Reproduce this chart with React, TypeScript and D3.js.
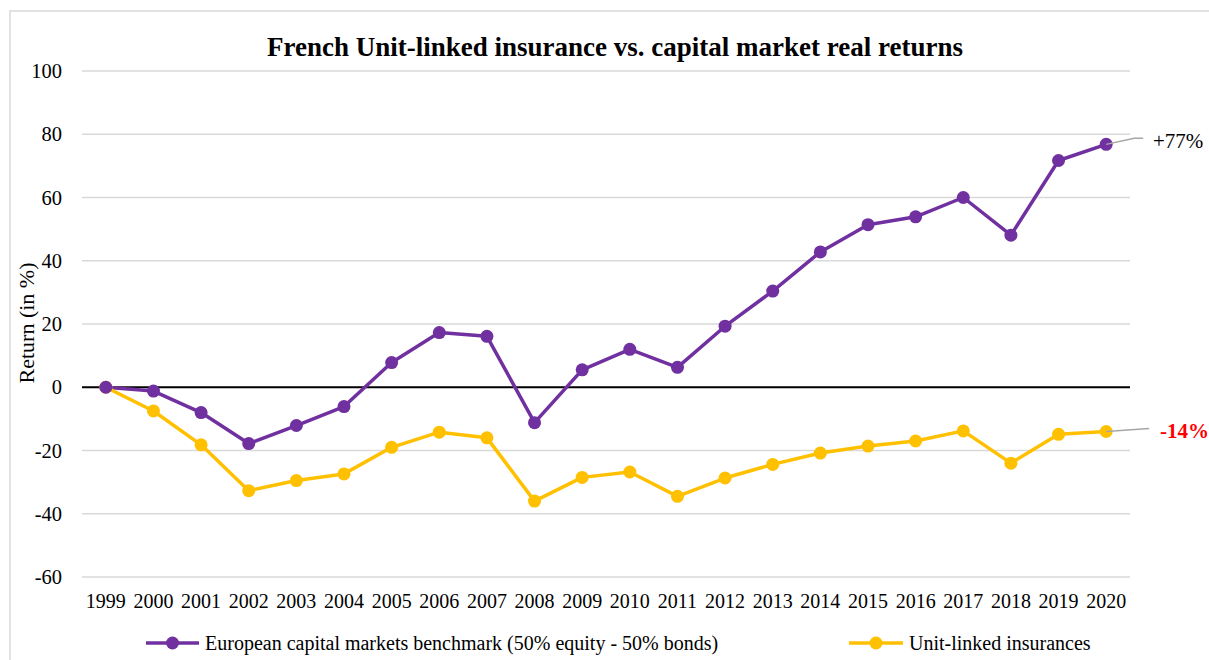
import React from "react";
import * as d3 from "d3";

const years = ["1999","2000","2001","2002","2003","2004","2005","2006","2007","2008","2009","2010","2011","2012","2013","2014","2015","2016","2017","2018","2019","2020"];
const benchmark = [0,-1.2,-8.0,-17.8,-12.1,-6.1,7.8,17.3,16.1,-11.2,5.5,12.0,6.3,19.3,30.4,42.8,51.4,53.9,60.0,48.1,71.7,76.8];
const unitLinked = [0,-7.5,-18.2,-32.7,-29.5,-27.4,-19.0,-14.2,-16.0,-36.0,-28.5,-26.8,-34.5,-28.7,-24.4,-20.8,-18.6,-17.0,-13.8,-24.0,-14.9,-14.0];
const yTicks = [100,80,60,40,20,0,-20,-40,-60];
const seriesNames = ["European capital markets benchmark (50% equity - 50% bonds)", "Unit-linked insurances"];
const endLabels = ["+77%", "-14%"];

const W = 1209, H = 660;
const FONT = "'Liberation Serif', 'Times New Roman', serif";
const PURPLE = "#7030A0";
const YELLOW = "#FFC000";

export default function App() {
  const x = d3.scalePoint<string>().domain(years).range([82, 1130]).padding(0.5);
  const y = d3.scaleLinear().domain([-60, 100]).range([577, 71]);
  const line = d3.line<number>().x((_, i) => x(years[i])!).y((d) => y(d));
  const series = [
    { name: seriesNames[0], values: benchmark, color: PURPLE },
    { name: seriesNames[1], values: unitLinked, color: YELLOW },
  ];
  const lastX = x(years[years.length - 1])!;
  const bY = y(benchmark[benchmark.length - 1]);
  const uY = y(unitLinked[unitLinked.length - 1]);

  return (
    <svg width={W} height={H} style={{ position: "absolute", left: 0, top: 0, background: "#fff" }} fontFamily={FONT}>
      <rect x={10} y={11} width={1400} height={800} fill="#fff" stroke="#d9d9d9" strokeWidth={1.5} />
      <text x={615} y={56} textAnchor="middle" fontSize={27} fontWeight="bold" fill="#000">
        French Unit-linked insurance vs. capital market real returns
      </text>
      {yTicks.map((t) => (
        <g key={t}>
          {t !== 0 && (
            <line x1={82} x2={1130} y1={y(t)} y2={y(t)} stroke="#d9d9d9" strokeWidth={1.5} />
          )}
          <text x={62} y={y(t)} dy="0.35em" textAnchor="end" fontSize={20.5} fill="#000">{t}</text>
        </g>
      ))}
      <line x1={82} x2={1130} y1={y(0)} y2={y(0)} stroke="#000" strokeWidth={2} />
      {years.map((yr) => (
        <text key={yr} x={x(yr)} y={608} textAnchor="middle" fontSize={20} fill="#000">{yr}</text>
      ))}
      <text transform={`translate(34,323) rotate(-90)`} textAnchor="middle" fontSize={22} fill="#000">Return (in %)</text>

      {series.map((s) => (
        <g key={s.name}>
          <path d={line(s.values)!} fill="none" stroke={s.color} strokeWidth={3.5} strokeLinejoin="round" />
        </g>
      ))}
      {series.slice().reverse().map((s) => (
        <g key={s.name + "m"}>
          {s.values.map((v, i) => (
            <circle key={i} cx={x(years[i])} cy={y(v)} r={6.5} fill={s.color} />
          ))}
        </g>
      ))}

      <polyline points={`${lastX},${bY} ${lastX + 28},${bY - 6} ${lastX + 37},${bY - 6}`} fill="none" stroke="#a6a6a6" strokeWidth={1.5} />
      <text x={1153} y={bY - 4} dy="0.35em" fontSize={21} fill="#000">{endLabels[0]}</text>
      <polyline points={`${lastX},${uY} ${lastX + 43},${uY - 3}`} fill="none" stroke="#a6a6a6" strokeWidth={1.5} />
      <text x={1160} y={uY - 1} dy="0.35em" fontSize={21} fontWeight="bold" fill="#FF0000">{endLabels[1]}</text>

      <g>
        <line x1={146} x2={199} y1={643} y2={643} stroke={PURPLE} strokeWidth={3.5} />
        <circle cx={172.5} cy={643} r={6.5} fill={PURPLE} />
        <text x={205} y={643} dy="0.35em" fontSize={20} fill="#000">{seriesNames[0]}</text>
        <line x1={849} x2={903} y1={643} y2={643} stroke={YELLOW} strokeWidth={3.5} />
        <circle cx={876} cy={643} r={6.5} fill={YELLOW} />
        <text x={909} y={643} dy="0.35em" fontSize={20} fill="#000">{seriesNames[1]}</text>
      </g>
    </svg>
  );
}
